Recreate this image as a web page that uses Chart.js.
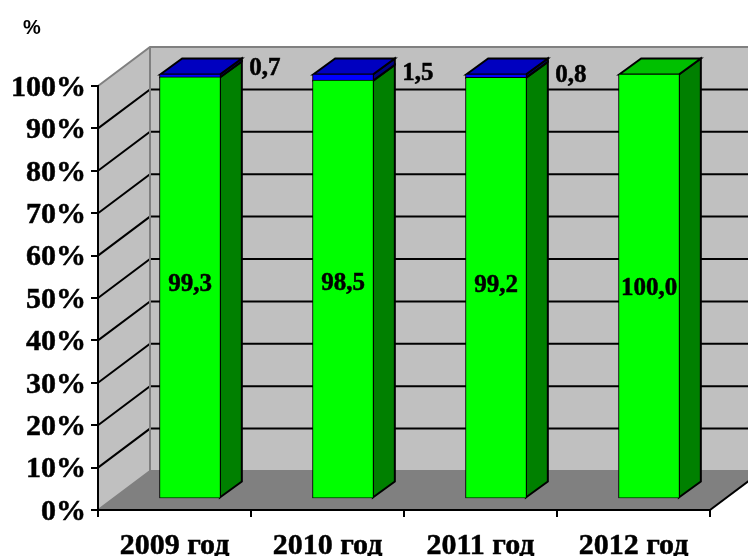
<!DOCTYPE html>
<html lang="en">
<head>
  <meta charset="UTF-8">
  <title>2009-2012</title>
  <script src="https://cdn.jsdelivr.net/npm/chart.js"></script>
  <style>
    body { margin: 0; background: #fff; }
    canvas { display: block; }
  </style>
</head>
<body>
  <canvas id="myChart" width="748" height="556"></canvas>

  <script>
    // Values
    const years = ['2009 год', '2010 год', '2011 год', '2012 год'];
    const greenValues = [99.3, 98.5, 99.2, 100.0];
    const blueValues = [0.7, 1.5, 0.8, 0];

    // 3D look: how far the back wall sits from the front plane, and the bars inside that
    const wallDepth = { x: 52, y: -39 };
    const barOffset = { x: 15.5, y: -11.5 };
    const barDepth = { x: 22, y: -16 };
    const serif = '"Liberation Serif"';

    // small nudges for the value labels
    const greenLabelShift = [-1, -2, 0, 3];
    const blueLabelLift = [6, 1, -1];

    const faces = [
      { front: '#00ff00', side: '#008000', top: '#00c000' },
      { front: '#0000ff', side: '#000080', top: '#0000c0' }
    ];

    function fmt(v) {
      return v.toFixed(1).replace('.', ',');
    }

    function poly(ctx, pts, fill, stroke, width) {
      ctx.beginPath();
      pts.forEach((p, i) => i ? ctx.lineTo(p[0], p[1]) : ctx.moveTo(p[0], p[1]));
      ctx.closePath();
      if (fill) {
        ctx.fillStyle = fill;
        ctx.fill();
      }
      if (stroke) {
        ctx.strokeStyle = stroke;
        ctx.lineWidth = width;
        ctx.stroke();
      }
    }

    function boldText(ctx, text, x, y) {
      ctx.fillText(text, x, y);
      ctx.strokeText(text, x, y);
    }

    const box3d = {
      id: 'box3d',
      // walls, floor and grid go under the axes
      beforeDraw(chart) {
        const ctx = chart.ctx;
        const { left, right } = chart.chartArea;
        const y = chart.scales.y;
        const y0 = y.getPixelForValue(0);
        const y100 = y.getPixelForValue(100);
        const dx = wallDepth.x, dy = wallDepth.y;
        const farRight = chart.width + 2;
        const floorEnd = y0 + dy * (farRight - right) / dx;

        ctx.save();
        poly(ctx, [[left, y100], [left + dx, y100 + dy], [left + dx, y0 + dy], [left, y0]], '#c0c0c0');
        ctx.fillStyle = '#c0c0c0';
        ctx.fillRect(left + dx, y100 + dy, farRight - left - dx, y0 - y100);
        poly(ctx, [[left, y0], [left + dx, y0 + dy], [farRight, y0 + dy], [farRight, floorEnd], [right, y0]], '#808080');

        ctx.strokeStyle = '#000';
        ctx.lineWidth = 2;
        for (let v = 10; v < 100; v += 10) {
          const py = y.getPixelForValue(v);
          ctx.beginPath();
          ctx.moveTo(left, py);
          ctx.lineTo(left + dx, py + dy);
          ctx.lineTo(farRight, py + dy);
          ctx.stroke();
        }

        // wall outline
        ctx.strokeStyle = '#808080';
        ctx.beginPath();
        ctx.moveTo(left, y100);
        ctx.lineTo(left + dx, y100 + dy);
        ctx.lineTo(farRight, y100 + dy);
        ctx.moveTo(left + dx, y100 + dy);
        ctx.lineTo(left + dx, y0 + dy);
        ctx.lineTo(farRight, y0 + dy);
        ctx.moveTo(left + dx, y0 + dy);
        ctx.lineTo(left, y0);
        ctx.stroke();

        // right edge of the floor
        ctx.strokeStyle = '#000';
        ctx.beginPath();
        ctx.moveTo(right, y0);
        ctx.lineTo(farRight, floorEnd);
        ctx.stroke();
        ctx.restore();
      },
      // depth of the bars, the native bars then land on top of it
      beforeDatasetsDraw(chart) {
        const ctx = chart.ctx;
        ctx.save();
        ctx.translate(barOffset.x, barOffset.y);
        const bx = barDepth.x, by = barDepth.y;
        chart.data.datasets.forEach((ds, i) => {
          chart.getDatasetMeta(i).data.forEach((bar, j) => {
            if (!ds.data[j]) return;
            const r = bar.x + bar.width / 2;
            const l = bar.x - bar.width / 2;
            poly(ctx, [[r, bar.base], [r + bx, bar.base + by], [r + bx, bar.y + by], [r, bar.y]], faces[i].side, '#000', 2);
            const isTop = i === chart.data.datasets.length - 1 || !chart.data.datasets[i + 1].data[j];
            if (isTop) {
              poly(ctx, [[l, bar.y], [l + bx, bar.y + by], [r + bx, bar.y + by], [r, bar.y]], faces[i].top, '#000', 2);
            }
          });
        });
      },
      afterDatasetsDraw(chart) {
        const ctx = chart.ctx;
        ctx.fillStyle = '#000';
        ctx.strokeStyle = '#000';
        ctx.lineWidth = 0.5;
        ctx.textAlign = 'center';
        ctx.textBaseline = 'middle';
        ctx.font = 'bold 25px ' + serif;
        const mid = chart.scales.y.getPixelForValue(50);
        chart.getDatasetMeta(0).data.forEach((bar, j) => {
          boldText(ctx, fmt(greenValues[j]), bar.x, mid + greenLabelShift[j] - 1);
        });
        chart.getDatasetMeta(1).data.forEach((bar, j) => {
          if (!blueValues[j]) return;
          boldText(ctx, fmt(blueValues[j]), bar.x + bar.width / 2 + barDepth.x + 23, bar.y - blueLabelLift[j]);
        });
        ctx.restore();

        ctx.fillStyle = '#000';
        ctx.textAlign = 'center';
        ctx.textBaseline = 'middle';
        ctx.font = 'bold 20px "Liberation Sans"';
        ctx.fillText('%', 32, 28);
      }
    };

    const ctx = document.getElementById('myChart').getContext('2d');
    const myChart = new Chart(ctx, {
      type: 'bar',
      data: {
        labels: years,
        datasets: [
          { data: greenValues, backgroundColor: faces[0].front },
          { data: blueValues, backgroundColor: faces[1].front }
        ]
      },
      options: {
        responsive: false,
        animation: false,
        layout: { padding: { top: 86, right: 38 } },
        datasets: {
          bar: {
            barPercentage: 0.39,
            categoryPercentage: 1,
            borderColor: '#000',
            borderWidth: 1,
            inflateAmount: 1,
            borderSkipped: false
          }
        },
        plugins: { legend: { display: false }, tooltip: { enabled: false } },
        scales: {
          x: {
            stacked: true,
            afterFit(scale) { scale.height = 46; },
            grid: { drawOnChartArea: false, color: '#000', lineWidth: 2, tickLength: 7 },
            border: { color: '#000', width: 2 },
            ticks: {
              color: '#000',
              maxRotation: 0,
              padding: 11,
              textStrokeColor: '#000',
              textStrokeWidth: 0.5,
              font: { family: serif, size: 30, weight: 'bold' }
            }
          },
          y: {
            stacked: true,
            min: 0,
            max: 100,
            afterFit(scale) { scale.width = 98; },
            grid: { drawOnChartArea: false, color: '#000', lineWidth: 2, tickLength: 7 },
            border: { color: '#000', width: 2 },
            ticks: {
              stepSize: 10,
              color: '#000',
              padding: 5,
              labelOffset: 2,
              textStrokeColor: '#000',
              textStrokeWidth: 0.5,
              font: { family: serif, size: 30, weight: 'bold' },
              callback: v => v + '%'
            }
          }
        }
      },
      plugins: [box3d]
    });
  </script>
</body>
</html>
